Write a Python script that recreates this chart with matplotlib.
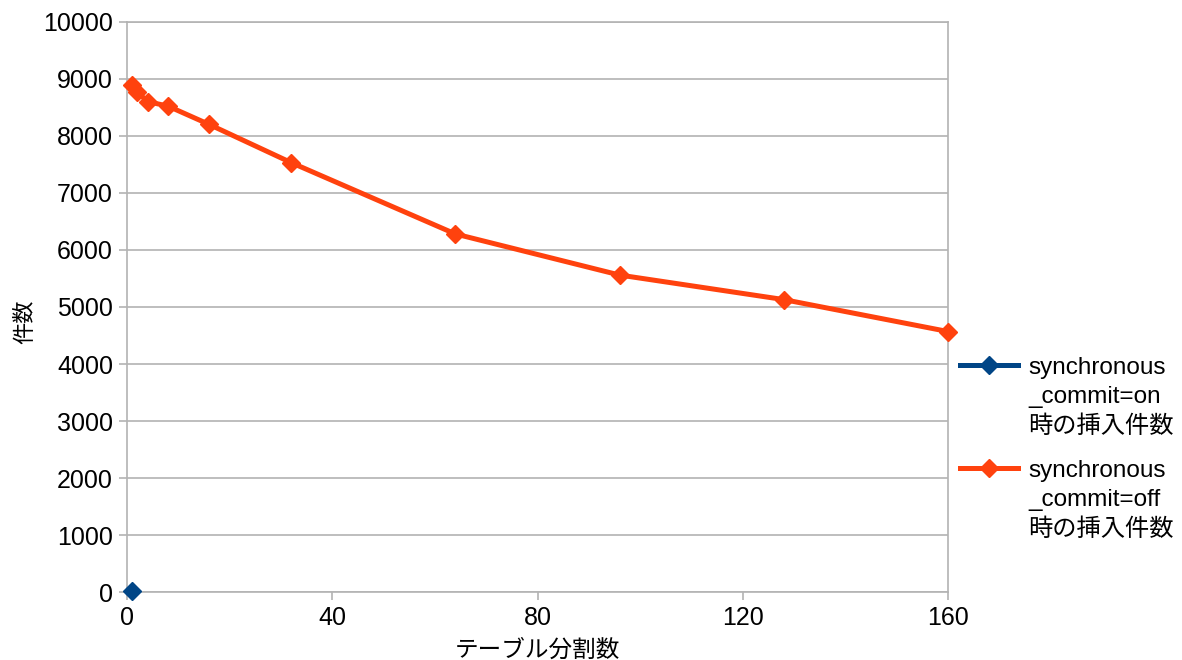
import matplotlib
matplotlib.use("Agg")
import matplotlib.pyplot as plt
from matplotlib.lines import Line2D

plt.rcParams['font.family'] = ['Liberation Sans', 'Noto Sans CJK JP', 'DejaVu Sans']

# Data
partitions_off = [1, 2, 4, 8, 16, 32, 64, 96, 128, 160]
counts_off = [8890, 8770, 8600, 8520, 8200, 7530, 6280, 5560, 5130, 4570]
partitions_on = [1]
counts_on = [25]

label_on = "synchronous\n_commit=on\n時の挿入件数"
label_off = "synchronous\n_commit=off\n時の挿入件数"
xlabel = "テーブル分割数"
ylabel = "件数"
xticks = [0, 40, 80, 120, 160]
yticks = list(range(0, 10001, 1000))

c_on = "#004586"
c_off = "#FF420E"
grid_c = "#b3b3b3"

W, H = 1182, 660
fig = plt.figure(figsize=(W / 100, H / 100), dpi=100)
ax = fig.add_axes([127 / W, 1 - 592.3 / H, (948 - 127) / W, (592.3 - 21.7) / H])

ax.plot(partitions_on, counts_on, color=c_on, lw=3.6, marker='D', ms=9, zorder=3,
        clip_on=False)
ax.plot(partitions_off, counts_off, color=c_off, lw=3.6, marker='D', ms=9, zorder=3,
        clip_on=False)

ax.set_xlim(0, 160)
ax.set_ylim(0, 10000)
ax.set_xticks(xticks)
ax.set_yticks(yticks)
ax.yaxis.grid(True, color=grid_c, lw=1.2)
ax.set_axisbelow(True)
for s in ax.spines.values():
    s.set_color(grid_c)
    s.set_linewidth(1.2)
ax.tick_params(axis='both', direction='out', length=6, color=grid_c, width=1.2,
               labelsize=18, pad=4)
ax.set_xlabel(xlabel, fontsize=17, labelpad=7)
ax.set_ylabel(ylabel, fontsize=16)
ax.yaxis.set_label_coords(-0.110, 0.474)

# Legend (manual)
def legend_entry(y_px, color, text):
    yf = 1 - y_px / H
    fig.add_artist(Line2D([960 / W, 1018 / W], [yf, yf], color=color, lw=3.6,
                          transform=fig.transFigure))
    fig.add_artist(Line2D([989 / W], [yf], color=color, marker='D', ms=9,
                          transform=fig.transFigure))
    fig.text(1028 / W, 1 - (y_px - 8) / H, text, fontsize=17.5, va='top', ha='left',
             linespacing=1.42)

legend_entry(365, c_on, label_on)
legend_entry(468, c_off, label_off)

fig.savefig("out.png", dpi=100)
